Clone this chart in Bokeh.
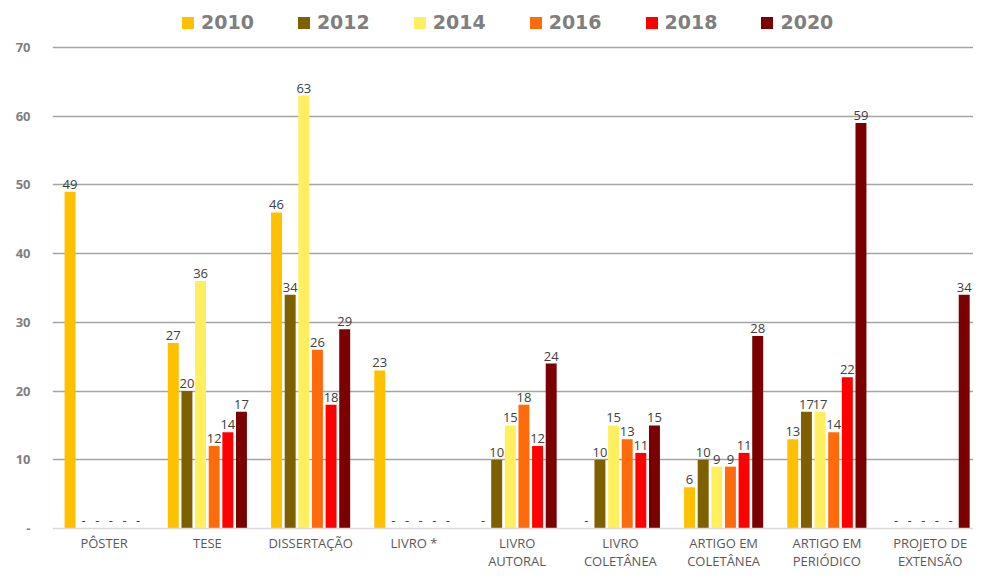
from bokeh.plotting import figure
from bokeh.models import ColumnDataSource, FixedTicker, Legend, LegendItem, Span, Range1d
from bokeh.core.properties import value
from bokeh.embed import file_html
from bokeh.resources import INLINE

categories = ["PÔSTER", "TESE", "DISSERTAÇÃO", "LIVRO *", "LIVRO\nAUTORAL",
              "LIVRO\nCOLETÂNEA", "ARTIGO EM\nCOLETÂNEA", "ARTIGO EM\nPERIÓDICO",
              "PROJETO DE\nEXTENSÃO"]
series_names = ["2010", "2012", "2014", "2016", "2018", "2020"]
v2010 = [49, 27, 46, 23, 0, 0, 6, 13, 0]
v2012 = [0, 20, 34, 0, 10, 10, 10, 17, 0]
v2014 = [0, 36, 63, 0, 15, 15, 9, 17, 0]
v2016 = [0, 12, 26, 0, 18, 13, 9, 14, 0]
v2018 = [0, 14, 18, 0, 12, 11, 11, 22, 0]
v2020 = [0, 17, 29, 0, 24, 15, 28, 59, 34]
y_ticks = [0, 10, 20, 30, 40, 50, 60, 70]

series_values = [v2010, v2012, v2014, v2016, v2018, v2020]
colors = ["#FFC000", "#7F6000", "#FFEF5F", "#FF6A0A", "#FF0000", "#7B0000"]

FONT = "Open Sans"

p = figure(width=973, height=571, output_backend="svg", toolbar_location=None,
           x_range=Range1d(0, 8.92), y_range=Range1d(-6.26, 76.84),
           min_border_left=52, min_border_right=0, min_border_top=0, min_border_bottom=0)
p.outline_line_color = None
p.background_fill_color = "white"
p.xaxis.visible = False

pitch = 0.132
bw = 0.106
items = []
for i, (name, vals, col) in enumerate(zip(series_names, series_values, colors)):
    xs = [k + 0.5 + (i - 2.5) * pitch for k in range(len(categories))]
    labels = [str(v) if v > 0 else "-" for v in vals]
    src = ColumnDataSource(dict(x=xs, top=vals, lab=labels))
    r = p.vbar(x="x", top="top", bottom=0, width=bw, source=src, fill_color=col, line_color=None)
    p.text(x="x", y="top", text="lab", source=src, text_align="center",
           text_baseline="bottom", y_offset=-3, text_font=value(FONT),
           text_font_size="13px", text_color="#404040")
    items.append(LegendItem(label=name, renderers=[r]))

# category labels under the baseline
csrc = ColumnDataSource(dict(x=[k + 0.5 for k in range(len(categories))],
                             y=[0] * len(categories), t=categories))
p.text(x="x", y="y", text="t", source=csrc, text_align="center", text_baseline="top",
       y_offset=6, text_line_height=0.95, text_font=value(FONT),
       text_font_size="13px", text_color="#595959")

p.xgrid.visible = False
p.ygrid.ticker = FixedTicker(ticks=y_ticks[1:])
p.ygrid.grid_line_color = "#A5A5A5"
p.ygrid.grid_line_width = 1.5
p.add_layout(Span(location=0, dimension="width", line_color="#D9D9D9", line_width=1.5))

p.yaxis.ticker = FixedTicker(ticks=y_ticks)
p.yaxis.major_label_overrides = {0: "-"}
p.yaxis.axis_line_color = None
p.yaxis.major_tick_line_color = None
p.yaxis.minor_tick_line_color = None
p.yaxis.major_label_text_font = FONT
p.yaxis.major_label_text_font_size = "13px"
p.yaxis.major_label_text_font_style = "bold"
p.yaxis.major_label_text_color = "#7F7F7F"
p.yaxis.major_label_standoff = 16

legend = Legend(items=items, orientation="horizontal", location=(128, 538),
                label_text_font="DejaVu Sans", label_text_font_size="19px",
                label_text_font_style="bold", label_text_color="#7F7F7F",
                glyph_width=15, glyph_height=15, label_standoff=6, spacing=42,
                padding=2, margin=0, border_line_color=None, background_fill_alpha=0)
p.add_layout(legend, "center")

open("out.html", "w").write(file_html(p, INLINE))
